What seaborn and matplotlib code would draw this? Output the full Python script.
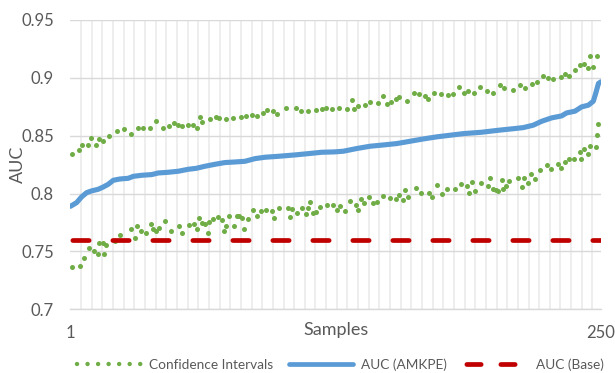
import matplotlib
matplotlib.use('Agg')
import matplotlib.pyplot as plt
from matplotlib.lines import Line2D
from matplotlib.ticker import FixedLocator
import seaborn as sns

# visible dots of the upper confidence bound (sample index, AUC)
upper_x = [1.5, 5.0, 6.6, 9.1, 10.6, 12.8, 14.4, 16.1, 19.2, 22.7, 26.1, 29.2, 32.7, 34.9,
           38.3, 41.3, 44.3, 47.4, 49.4, 51.6, 53.2, 56.3, 58.5, 60.4, 61.7, 62.9, 66.5,
           69.3, 70.7, 73.8, 77.4, 80.9, 83.2, 86.0, 88.4, 91.2, 93.1, 96.2, 98.1, 102.2,
           106.7, 109.0, 112.6, 116.1, 118.9, 120.8, 123.6, 127.2, 130.6, 133.0, 134.1,
           136.1, 139.2, 141.6, 145.2, 147.8, 149.4, 151.4, 153.8, 155.3, 159.1, 162.2,
           164.7, 167.4, 169.0, 171.6, 174.9, 178.3, 180.7, 183.5, 185.9, 187.7, 190.6,
           193.2, 196.7, 199.5, 202.6, 204.6, 208.9, 212.0, 214.3, 217.5, 220.1, 222.6,
           225.3, 227.6, 231.2, 233.1, 235.1, 237.8, 240.1, 242.0, 243.7, 244.8, 246.4,
           248.0]
upper_y = [0.8345, 0.8380, 0.8418, 0.8418, 0.8480, 0.8423, 0.8469, 0.8452, 0.8498, 0.8539,
           0.8562, 0.8513, 0.8565, 0.8570, 0.8570, 0.8625, 0.8570, 0.8585, 0.8611, 0.8596,
           0.8585, 0.8591, 0.8591, 0.8566, 0.8660, 0.8620, 0.8642, 0.8666, 0.8657, 0.8645,
           0.8651, 0.8663, 0.8668, 0.8683, 0.8668, 0.8697, 0.8723, 0.8715, 0.8689, 0.8738,
           0.8738, 0.8717, 0.8715, 0.8726, 0.8735, 0.8743, 0.8729, 0.8740, 0.8732, 0.8807,
           0.8735, 0.8755, 0.8764, 0.8790, 0.8787, 0.8844, 0.8778, 0.8790, 0.8813, 0.8833,
           0.8804, 0.8873, 0.8864, 0.8841, 0.8818, 0.8867, 0.8862, 0.8850, 0.8864, 0.8922,
           0.8867, 0.8889, 0.8873, 0.8922, 0.8888, 0.8873, 0.8937, 0.8916, 0.8896, 0.8934,
           0.8908, 0.8951, 0.8965, 0.9012, 0.9003, 0.8988, 0.9006, 0.9032, 0.9020, 0.9069,
           0.9107, 0.9121, 0.9084, 0.9185, 0.9098, 0.9187]

# visible dots of the lower confidence bound
lower_x = [1.5, 5.3, 7.4, 9.6, 12.2, 13.9, 14.6, 16.1, 16.6, 17.9, 21.9, 24.3, 29.4, 31.5,
           32.2, 34.3, 36.5, 38.6, 39.9, 41.0, 42.4, 45.5, 48.2, 51.8, 53.5, 56.6, 58.8,
           60.6, 61.3, 62.9, 64.1, 65.4, 66.2, 68.0, 70.1, 72.3, 73.2, 73.8, 75.4, 77.9,
           79.0, 80.1, 81.3, 82.4, 84.2, 86.8, 88.4, 90.4, 92.8, 95.4, 96.5, 98.9, 102.9,
           104.0, 105.1, 107.2, 109.5, 111.5, 112.6, 113.4, 114.7, 116.1, 118.1, 121.2,
           124.0, 125.9, 127.5, 129.8, 132.2, 135.0, 136.1, 137.2, 138.9, 141.3, 142.8,
           145.0, 147.8, 151.0, 153.6, 155.2, 156.9, 158.0, 159.6, 163.0, 165.5, 169.3,
           170.5, 173.2, 175.4, 177.9, 181.6, 184.3, 187.0, 188.1, 189.6, 190.9, 193.5,
           196.8, 197.9, 199.5, 200.7, 201.8, 203.4, 204.2, 205.3, 207.0, 211.2, 212.8,
           213.9, 215.9, 217.0, 219.0, 221.4, 224.5, 226.4, 229.7, 231.2, 233.1, 235.2,
           237.5, 240.2, 240.6, 242.0, 243.8, 245.0, 247.7, 248.1, 248.4]
lower_y = [0.7365, 0.7371, 0.7440, 0.7529, 0.7500, 0.7477, 0.7576, 0.7576, 0.7477, 0.7555,
           0.7587, 0.7645, 0.7691, 0.7619, 0.7720, 0.7676, 0.7656, 0.7737, 0.7691, 0.7674,
           0.7702, 0.7760, 0.7674, 0.7720, 0.7656, 0.7731, 0.7740, 0.7691, 0.7789, 0.7743,
           0.7740, 0.7659, 0.7754, 0.7777, 0.7798, 0.7775, 0.7676, 0.7723, 0.7803, 0.7717,
           0.7803, 0.7803, 0.7789, 0.7691, 0.7777, 0.7861, 0.7806, 0.7849, 0.7858, 0.7852,
           0.7789, 0.7875, 0.7878, 0.7798, 0.7864, 0.7835, 0.7875, 0.7821, 0.7875, 0.7927,
           0.7835, 0.7841, 0.7881, 0.7898, 0.7905, 0.7855, 0.7893, 0.7849, 0.7936, 0.7904,
           0.7861, 0.7956, 0.7919, 0.7968, 0.7919, 0.7927, 0.7979, 0.7959, 0.7956, 0.7985,
           0.7948, 0.8034, 0.7973, 0.8048, 0.8002, 0.8005, 0.7970, 0.8072, 0.7999, 0.8037,
           0.8043, 0.8086, 0.8064, 0.8005, 0.8100, 0.8025, 0.8095, 0.8063, 0.8135, 0.8043,
           0.8034, 0.8022, 0.8115, 0.8037, 0.8063, 0.8106, 0.8135, 0.8054, 0.8135, 0.8095,
           0.8167, 0.8124, 0.8204, 0.8247, 0.8216, 0.8259, 0.8224, 0.8273, 0.8296, 0.8302,
           0.8360, 0.8296, 0.8389, 0.8345, 0.8415, 0.8406, 0.8504, 0.8602]

# AUC (AMKPE), sorted curve
amkpe_x = [1, 3.9, 6.2, 8.6, 10.9, 14.0, 16.4, 18.7, 21.1, 24.2, 28.1, 30.5, 34.4, 39.1,
           42.2, 46.9, 51.6, 56.3, 60.0, 64.1, 68.8, 73.5, 78.2, 82.9, 87.6, 92.3, 98.5,
           106.4, 114.2, 118.9, 124.8, 129.1, 135.3, 141.6, 147.8, 154.1, 160.4, 166.6,
           172.9, 179.1, 185.4, 194.0, 201.8, 209.6, 213.5, 218.2, 222.2, 226.8, 231.5,
           233.9, 237.8, 240.9, 244.1, 246.4, 247.5, 248.8, 250]
amkpe_y = [0.7890, 0.7922, 0.7971, 0.8008, 0.8023, 0.8037, 0.8057, 0.8080, 0.8115, 0.8126,
           0.8132, 0.8149, 0.8158, 0.8164, 0.8178, 0.8184, 0.8193, 0.8210, 0.8218, 0.8236,
           0.8253, 0.8268, 0.8273, 0.8279, 0.8302, 0.8314, 0.8322, 0.8334, 0.8348, 0.8357,
           0.8360, 0.8366, 0.8389, 0.8409, 0.8420, 0.8432, 0.8452, 0.8472, 0.8490, 0.8504,
           0.8518, 0.8530, 0.8547, 0.8562, 0.8570, 0.8591, 0.8625, 0.8654, 0.8671, 0.8697,
           0.8712, 0.8749, 0.8764, 0.8798, 0.8864, 0.8951, 0.8966]

base_x = [1, 250]
base_auc = [0.76, 0.76]

y_ticks = [0.7, 0.75, 0.8, 0.85, 0.9, 0.95]
x_ticks = [1, 250]

GREEN = '#70AD47'
BLUE = '#5B9BD5'
RED = '#C00000'
GRAY = '#595959'
GRID = '#D9D9D9'

sns.set_style('white')
plt.rcParams['font.family'] = ['Lato', 'DejaVu Sans']

fig = plt.figure(figsize=(6.15, 3.73), dpi=100)
ax = fig.add_axes([0.1146, 0.1708, 0.8626, 0.7756])
ax.set_axisbelow(True)

sns.scatterplot(x=upper_x, y=upper_y, color=GREEN, s=13, linewidth=0, ax=ax, zorder=2)
sns.scatterplot(x=lower_x, y=lower_y, color=GREEN, s=13, linewidth=0, ax=ax, zorder=2)
sns.lineplot(x=amkpe_x, y=amkpe_y, color=BLUE, lw=3.7, ax=ax, zorder=3,
             solid_capstyle='round', solid_joinstyle='round')
sns.lineplot(x=base_x, y=base_auc, color=RED, lw=3.4, ax=ax, zorder=4,
             linestyle=(7.97, (3.45, 5.02)), dash_capstyle='round')

ax.set_xlim(1, 250)
ax.set_ylim(0.7, 0.95)
ax.set_yticks(y_ticks)
ax.set_yticklabels([f'{v:g}' for v in y_ticks])
ax.set_xticks(x_ticks)
ax.set_xticklabels([str(v) for v in x_ticks])
ax.xaxis.set_minor_locator(FixedLocator(list(range(1, 251, 5)) + [250]))

ax.grid(axis='y', which='major', color=GRID, lw=1.0)
ax.grid(axis='x', which='minor', color='#EDEDED', lw=1.3)
for side in ['left', 'right', 'top']:
    ax.spines[side].set_visible(False)
ax.spines['bottom'].set_color(GRID)
ax.spines['bottom'].set_linewidth(1.0)

ax.tick_params(axis='both', which='both', length=0, colors=GRAY, labelsize=12)
ax.tick_params(axis='y', pad=12)
ax.tick_params(axis='x', pad=11)

ax.set_ylabel('AUC', fontsize=13, color=GRAY)
ax.yaxis.label.set_va('center')
ax.yaxis.set_label_coords(-0.099, 0.5)
ax.set_xlabel('Samples', fontsize=13, color=GRAY)
ax.xaxis.label.set_va('center')
ax.xaxis.set_label_coords(0.5, -0.07)

handles = [
    Line2D([], [], color=GREEN, lw=3.2, linestyle=(0, (0.01, 2.36)), dash_capstyle='round'),
    Line2D([], [], color=BLUE, lw=3.4),
    Line2D([], [], color=RED, lw=3.4, linestyle=(6.7, (3.03, 4.17)), dash_capstyle='round'),
]
labels = ['Confidence Intervals', 'AUC (AMKPE)', 'AUC (Base)']
leg = fig.legend(handles, labels, loc='center', bbox_to_anchor=(0.553, 0.022), ncol=3,
                 frameon=False, fontsize=9.8, handlelength=4.7, handletextpad=0.6,
                 columnspacing=1.2, borderpad=0, borderaxespad=0)
for t in leg.get_texts():
    t.set_color(GRAY)

fig.savefig('out.png', dpi=100)
